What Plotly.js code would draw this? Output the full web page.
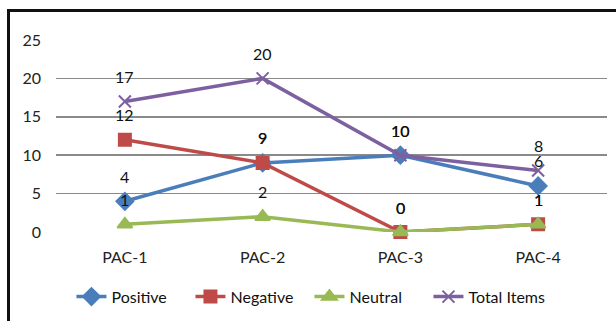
<!DOCTYPE html>
<html><head><meta charset="utf-8">
<script src="https://cdn.plot.ly/plotly-3.0.1.min.js"></script>
<style>
html,body{margin:0;padding:0;background:#fff;overflow:hidden;}
#chart{width:616px;height:321px;position:absolute;left:0;top:0;}
#frame{position:absolute;left:7px;top:9px;width:700px;height:400px;border-left:3px solid #111;border-top:3px solid #111;pointer-events:none;}
</style></head>
<body>
<div id="chart"></div>
<div id="frame"></div>
<script>
const categories = ["PAC-1","PAC-2","PAC-3","PAC-4"];
const positive = [4, 9, 10, 6];
const negative = [12, 9, 0, 1];
const neutral = [1, 2, 0, 1];
const totalItems = [17, 20, 10, 8];

const series = [
  {name:"Positive", y:positive, color:"#4A7EBB", symbol:"diamond", size:13},
  {name:"Negative", y:negative, color:"#BE4B48", symbol:"square", size:12},
  {name:"Neutral", y:neutral, color:"#98B954", symbol:"triangle-up", size:13},
  {name:"Total Items", y:totalItems, color:"#7D60A0", symbol:"x-thin-open", size:12}
];

const font = "Lato, 'Open Sans', sans-serif";
const traces = series.map(s => ({
  type:"scatter", mode:"lines+markers", name:s.name, x:categories, y:s.y,
  line:{color:s.color, width:3.5},
  marker:{symbol:s.symbol, size:s.size, color:s.color, line:{color:s.color, width:2}},
  cliponaxis:false
}));

const annotations = [];
series.forEach(s => {
  s.y.forEach((v,i) => {
    annotations.push({x:categories[i], y:v, xref:"x", yref:"y", text:String(v),
      showarrow:false, yshift:25, font:{family:font, size:16, color:"#111"}});
  });
});

const layout = {
  width:616, height:321,
  margin:{l:56, r:9, t:40, b:88},
  paper_bgcolor:"#fff", plot_bgcolor:"#fff",
  showlegend:true,
  legend:{orientation:"h", x:0.46, xanchor:"center", y:-0.33, yanchor:"middle",
    font:{family:font, size:16, color:"#111"}, itemwidth:30, tracegroupgap:0,
    entrywidth:74, entrywidthmode:"pixels"},
  xaxis:{type:"category", range:[-0.5,3.5], showgrid:false, zeroline:false, showline:false,
    ticks:"", ticklabelstandoff:14, tickfont:{family:font, size:16, color:"#222"}},
  yaxis:{range:[0,25], dtick:5, showgrid:true, gridcolor:"#8a8a8a", gridwidth:1.6,
    zeroline:false, showline:false, ticks:"", ticklabelstandoff:14,
    tickfont:{family:font, size:16, color:"#222"}},
  annotations:annotations,
  font:{family:font}
};

Plotly.newPlot("chart", traces, layout, {staticPlot:true, displayModeBar:false});
</script>
</body></html>
